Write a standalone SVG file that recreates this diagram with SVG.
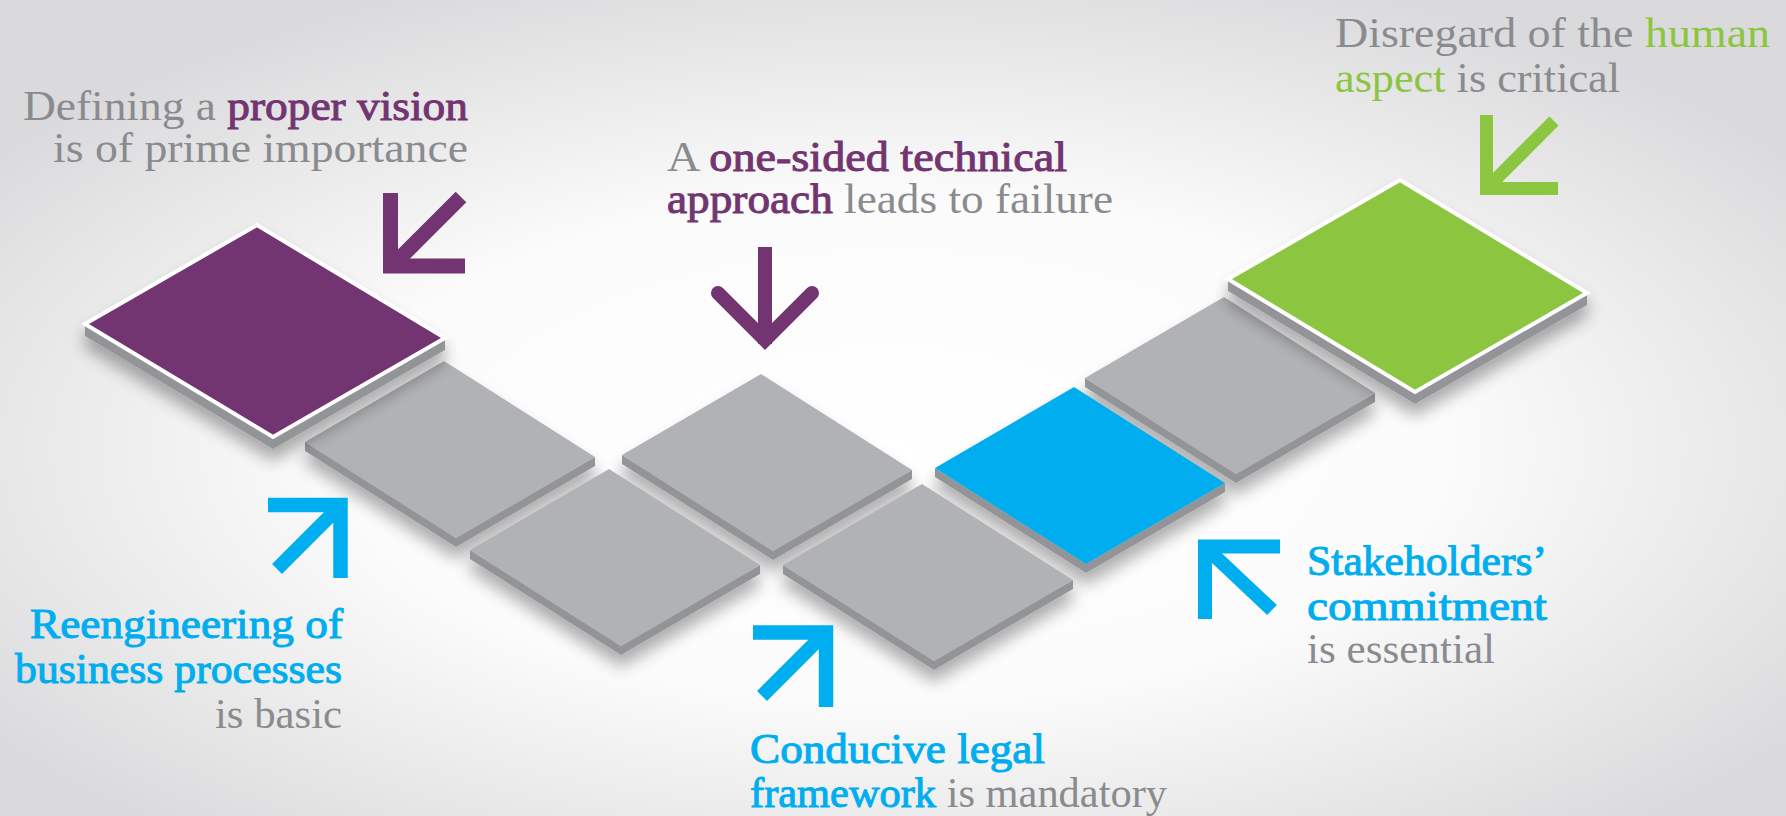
<svg xmlns="http://www.w3.org/2000/svg" width="1786" height="816" viewBox="0 0 1786 816">
<defs>
<radialGradient id="bg" cx="50%" cy="55%" r="62%">
<stop offset="0" stop-color="#ffffff"/>
<stop offset="0.5" stop-color="#fbfbfb"/>
<stop offset="1" stop-color="#dadadc"/>
</radialGradient>
<filter id="sh" x="-20%" y="-20%" width="140%" height="160%">
<feGaussianBlur in="SourceAlpha" stdDeviation="8"/>
<feOffset dx="0" dy="12" result="b"/>
<feComponentTransfer in="b" result="s"><feFuncA type="linear" slope="0.32"/></feComponentTransfer>
<feMerge><feMergeNode in="s"/><feMergeNode in="SourceGraphic"/></feMerge>
</filter>
<style>
.side{fill:#939498}
.gray{fill:#b1b2b5}
.blue{fill:#00aeef}
.pur{fill:#733572;stroke:#ffffff;stroke-width:4;stroke-linejoin:miter}
.grn{fill:#8cc53f;stroke:#ffffff;stroke-width:4;stroke-linejoin:miter}
.t{font-family:"Liberation Serif","Times New Roman",serif;font-size:42px;fill:#8a8b8e}
.p{fill:#733572;stroke:#733572;stroke-width:1}
.b{fill:#00aeef;stroke:#00aeef;stroke-width:1}
.g{fill:#8cc53f}
.arP{stroke:#733572;fill:none}
.arB{stroke:#00aeef;fill:none}
.arG{stroke:#8cc53f;fill:none}
</style>
</defs>
<rect width="1786" height="816" fill="url(#bg)"/>

<g id="tile-gray-3" filter="url(#sh)">
<polygon class="side" points="622,455 773,551 912,470 912,479 773,560 622,464"/>
<polygon class="gray" points="622,455 761,374 912,470 773,551"/>
</g>
<g id="tile-gray-1" filter="url(#sh)">
<polygon class="side" points="305,442 456,538 595,457 595,466 456,547 305,451"/>
<polygon class="gray" points="305,442 444,361 595,457 456,538"/>
</g>
<g id="tile-gray-5" filter="url(#sh)">
<polygon class="side" points="1085,378 1236,474 1375,393 1375,402 1236,483 1085,387"/>
<polygon class="gray" points="1085,378 1224,297 1375,393 1236,474"/>
</g>
<g id="tile-purple" filter="url(#sh)">
<polygon class="side" points="85,324 273,437 445,338 445,350 273,449 85,336"/>
<polygon class="pur" points="85,324 257,225 445,338 273,437"/>
</g>
<g id="tile-green" filter="url(#sh)">
<polygon class="side" points="1228,279 1415,392 1587,293 1587,305 1415,404 1228,291"/>
<polygon class="grn" points="1228,279 1400,180 1587,293 1415,392"/>
</g>
<g id="tile-blue" filter="url(#sh)">
<polygon class="side" points="935,468 1086,564 1225,483 1225,492 1086,573 935,477"/>
<polygon class="blue" points="935,468 1074,387 1225,483 1086,564"/>
</g>
<g id="tile-gray-2" filter="url(#sh)">
<polygon class="side" points="470,550 621,646 760,565 760,574 621,655 470,559"/>
<polygon class="gray" points="470,550 609,469 760,565 621,646"/>
</g>
<g id="tile-gray-4" filter="url(#sh)">
<polygon class="side" points="783,565 934,661 1073,580 1073,589 934,670 783,574"/>
<polygon class="gray" points="783,565 922,484 1073,580 934,661"/>
</g>

<g id="connectors">
<path class="arP" stroke-width="15" d="M390.5,193 V266 H465"/>
<path class="arP" stroke-width="15" d="M461,197 L396,262"/>
<path class="arP" stroke-width="14" d="M765,247 V344"/>
<path class="arP" stroke-width="14" stroke-linecap="round" d="M718,293 L765,340 L812,293"/>
<path class="arG" stroke-width="13" d="M1486.5,115 V188.5 H1558"/>
<path class="arG" stroke-width="13" d="M1554,121 L1491,184"/>
<path class="arB" stroke-width="14.5" d="M268,505 H340.5 V578"/>
<path class="arB" stroke-width="14" d="M342,504 L277,569"/>
<path class="arB" stroke-width="14.5" d="M753,632.5 H826 V707"/>
<path class="arB" stroke-width="14" d="M828,630 L762,696"/>
<path class="arB" stroke-width="14" d="M1280,546.5 H1205 V619"/>
<path class="arB" stroke-width="14" d="M1203,545 L1272,610"/>
</g>

<g id="label-vision">
<text class="t" x="23" y="120" textLength="445" lengthAdjust="spacingAndGlyphs">Defining a <tspan class="p">proper vision</tspan></text>
<text class="t" x="53" y="162" textLength="415" lengthAdjust="spacingAndGlyphs">is of prime importance</text>
</g>
<g id="label-technical">
<text class="t" x="667" y="171" textLength="400" lengthAdjust="spacingAndGlyphs">A <tspan class="p">one-sided technical</tspan></text>
<text class="t" x="667" y="213" textLength="446" lengthAdjust="spacingAndGlyphs"><tspan class="p">approach</tspan> leads to failure</text>
</g>
<g id="label-human">
<text class="t" x="1335" y="47" textLength="435" lengthAdjust="spacingAndGlyphs">Disregard of the <tspan class="g">human</tspan></text>
<text class="t" x="1335" y="92" textLength="285" lengthAdjust="spacingAndGlyphs"><tspan class="g">aspect</tspan> is critical</text>
</g>
<g id="label-reengineering">
<text class="t b" x="30" y="638" textLength="313" lengthAdjust="spacingAndGlyphs">Reengineering of</text>
<text class="t b" x="15" y="683" textLength="327" lengthAdjust="spacingAndGlyphs">business processes</text>
<text class="t" x="215" y="728" textLength="127" lengthAdjust="spacingAndGlyphs">is basic</text>
</g>
<g id="label-legal">
<text class="t b" x="750" y="763" textLength="295" lengthAdjust="spacingAndGlyphs">Conducive legal</text>
<text class="t" x="750" y="807" textLength="417" lengthAdjust="spacingAndGlyphs"><tspan class="b">framework</tspan> is mandatory</text>
</g>
<g id="label-stakeholders">
<text class="t b" x="1307" y="575" textLength="240" lengthAdjust="spacingAndGlyphs">Stakeholders’</text>
<text class="t b" x="1307" y="620" textLength="240" lengthAdjust="spacingAndGlyphs">commitment</text>
<text class="t" x="1307" y="663" textLength="188" lengthAdjust="spacingAndGlyphs">is essential</text>
</g>
</svg>
